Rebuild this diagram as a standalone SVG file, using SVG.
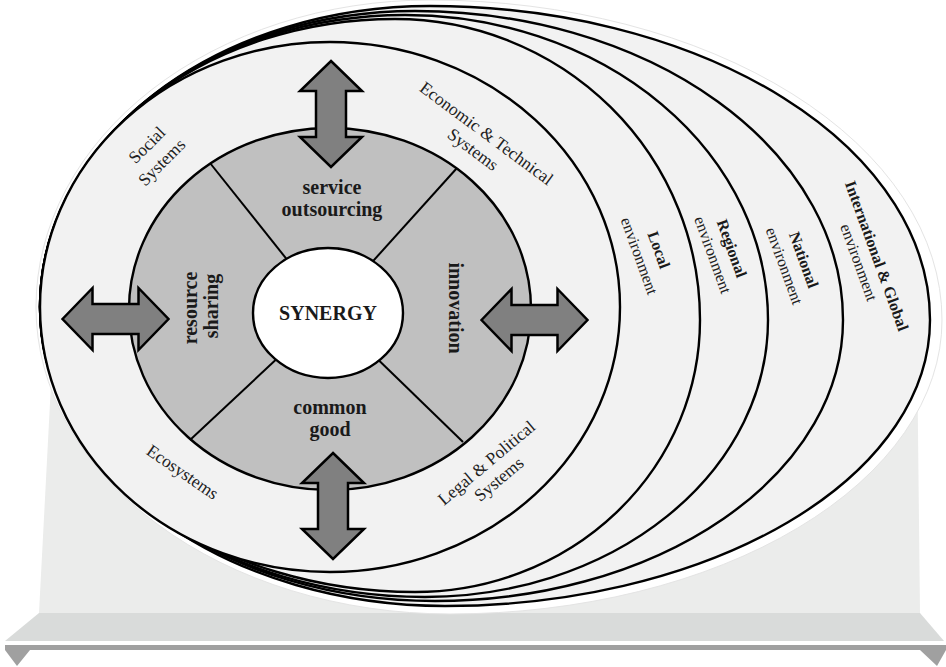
<svg xmlns="http://www.w3.org/2000/svg" width="946" height="667" viewBox="0 0 946 667">
  <style>
    .ring { fill: #f2f2f2; stroke: #000; stroke-width: 2.4; }
    .arrow { fill: #808080; stroke: #000; stroke-width: 2.5; stroke-linejoin: miter; }
    .div { stroke: #000; stroke-width: 2; }
    .lb { font-family: "Liberation Serif", "Times New Roman", serif; font-weight: bold; font-size: 20px; fill: #1a1a1a; text-anchor: middle; }
    .lr { font-family: "Liberation Serif", "Times New Roman", serif; font-size: 17.5px; fill: #222; text-anchor: middle; }
    .eb { font-family: "Liberation Serif", "Times New Roman", serif; font-weight: bold; font-size: 16px; fill: #1a1a1a; text-anchor: middle; }
    .er { font-family: "Liberation Serif", "Times New Roman", serif; font-size: 16px; fill: #222; text-anchor: middle; }
  </style>
  <defs>
    <!-- double-headed block arrow, centred on the origin, horizontal -->
    <path id="dblArrow" d="M-53,0 L-23,-31 L-23,-15 L23,-15 L23,-31 L53,0 L23,31 L23,15 L-23,15 L-23,31 Z"/>
  </defs>

  <rect width="946" height="667" fill="#fff"/>

  <!-- base platform -->
  <g id="platform">
    <polygon points="58,250 916,250 920,613 39,613" fill="#ebeceb"/>
    <polygon points="39,613 920,613 944,641 5,641" fill="#d9dbda"/>
    <rect x="5" y="645" width="941" height="5" fill="#a0a0a0"/>
    <polygon points="5,645 30,650 17,666 5,650" fill="#a0a0a0"/>
    <polygon points="920,650 946,645 946,650 937,666" fill="#a0a0a0"/>
  </g>

  <!-- environment layers, back to front -->
  <g id="halo">
    <path d="M36,307 A394,307 0 0 1 430,0 A512,320 0 0 1 942,320 A492,294 0 0 1 450,614 A414,307 0 0 1 36,307 Z" fill="#fff" stroke="#e4e4e4" stroke-width="1"/>
  </g>
  <g id="env-international">
    <path class="ring" d="M40,307 A390,301 0 0 1 430,6 A500,314 0 0 1 930,320 A485,286 0 0 1 445,606 A405,299 0 0 1 40,307 Z"/>
  </g>
  <g id="env-national">
    <path class="ring" d="M40,307 A375,296 0 0 1 415,11 A428,309 0 0 1 843,320 A408,281 0 0 1 435,601 A395,294 0 0 1 40,307 Z"/>
  </g>
  <g id="env-regional">
    <path class="ring" d="M40,307 A365,292 0 0 1 405,15 A363,305 0 0 1 768,320 A343,277 0 0 1 425,597 A385,290 0 0 1 40,307 Z"/>
  </g>
  <g id="env-local">
    <path class="ring" d="M40,307 A355,288 0 0 1 395,19 A305,301 0 0 1 700,320 A285,272 0 0 1 415,592 A375,285 0 0 1 40,307 Z"/>
  </g>

  <!-- systems ring -->
  <g id="systems">
    <ellipse class="ring" cx="330" cy="307" rx="290" ry="265"/>
  </g>

  <!-- inner disc with four sectors -->
  <g id="sectors">
    <ellipse cx="330" cy="309" rx="201" ry="181" fill="#c0c0c0" stroke="#000" stroke-width="2.4"/>
    <line class="div" x1="210" y1="163" x2="328" y2="311"/>
    <line class="div" x1="457" y1="168" x2="328" y2="311"/>
    <line class="div" x1="190" y1="440" x2="328" y2="311"/>
    <line class="div" x1="463" y1="442" x2="328" y2="311"/>
  </g>

  <g id="synergy">
    <ellipse cx="328" cy="313" rx="75" ry="65" fill="#fff" stroke="#000" stroke-width="2.4"/>
    <text class="lb" x="328" y="320" font-size="19">SYNERGY</text>
  </g>

  <!-- exchange arrows -->
  <g id="connectors">
    <use href="#dblArrow" class="arrow" transform="translate(331,114) rotate(90)"/>
    <use href="#dblArrow" class="arrow" transform="translate(333,506) rotate(90)"/>
    <use href="#dblArrow" class="arrow" transform="translate(115.5,319)"/>
    <use href="#dblArrow" class="arrow" transform="translate(534.5,320)"/>
  </g>

  <!-- sector labels -->
  <g id="service-outsourcing">
    <text class="lb" x="332" y="194">service</text>
    <text class="lb" x="332" y="216">outsourcing</text>
  </g>
  <g id="common-good">
    <text class="lb" x="330" y="414">common</text>
    <text class="lb" x="330" y="436">good</text>
  </g>
  <g id="resource-sharing">
    <text class="lb" transform="translate(197,308) rotate(-90)">resource</text>
    <text class="lb" transform="translate(218,306) rotate(-90)">sharing</text>
  </g>
  <g id="innovation">
    <text class="lb" transform="translate(449,308) rotate(90)">innovation</text>
  </g>

  <!-- systems labels -->
  <g id="social-systems">
    <text class="lr" transform="translate(147.5,145.5) rotate(-45)" y="5">Social</text>
    <text class="lr" transform="translate(163,163.5) rotate(-45)" y="4">Systems</text>
  </g>
  <g id="economic-technical">
    <text class="lr" transform="translate(486,134) rotate(36.5)" y="5">Economic &amp; Technical</text>
    <text class="lr" transform="translate(472,151) rotate(36.5)" y="4">Systems</text>
  </g>
  <g id="ecosystems">
    <text class="lr" transform="translate(181.5,473.5) rotate(34.5)" y="4">Ecosystems</text>
  </g>
  <g id="legal-political">
    <text class="lr" transform="translate(487,463.5) rotate(-40)" y="5">Legal &amp; Political</text>
    <text class="lr" transform="translate(500,480.5) rotate(-40)" y="4">Systems</text>
  </g>

  <!-- environment labels -->
  <g id="local-label">
    <text class="eb" transform="translate(658.5,250) rotate(70)" y="5">Local</text>
    <text class="er" transform="translate(639,256) rotate(70)" y="5">environment</text>
  </g>
  <g id="regional-label">
    <text class="eb" transform="translate(731.5,248.5) rotate(70)" y="5">Regional</text>
    <text class="er" transform="translate(712.5,255) rotate(70)" y="5">environment</text>
  </g>
  <g id="national-label">
    <text class="eb" transform="translate(803.5,260) rotate(70)" y="5">National</text>
    <text class="er" transform="translate(784,266) rotate(70)" y="5">environment</text>
  </g>
  <g id="international-label">
    <text class="eb" transform="translate(876.5,256) rotate(70)" y="5">International &amp; Global</text>
    <text class="er" transform="translate(858.5,262.5) rotate(70)" y="5">environment</text>
  </g>
</svg>
